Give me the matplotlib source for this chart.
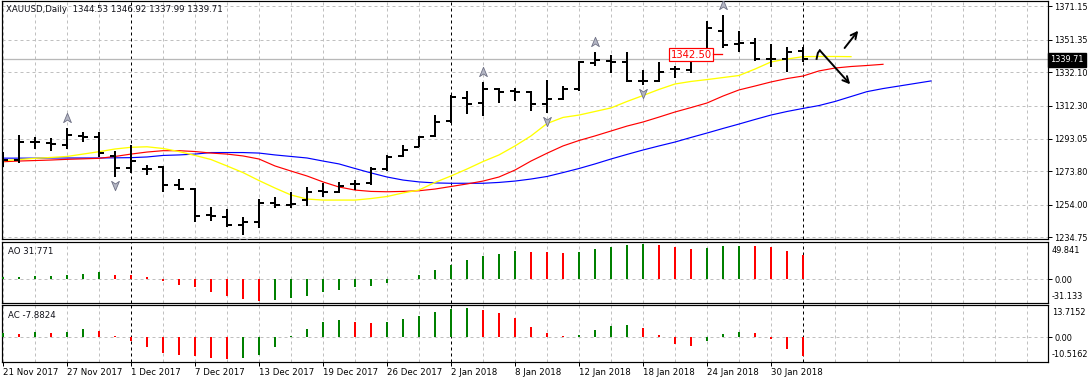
import matplotlib
matplotlib.use('Agg')
import matplotlib.pyplot as plt
import matplotlib.transforms as mtransforms
from matplotlib.path import Path
import numpy as np

# ---------------- data ----------------
title = "XAUUSD,Daily  1344.53 1346.92 1337.99 1339.71"
date_labels = ['21 Nov 2017', '27 Nov 2017', '1 Dec 2017', '7 Dec 2017', '13 Dec 2017',
               '19 Dec 2017', '26 Dec 2017', '2 Jan 2018', '8 Jan 2018', '12 Jan 2018',
               '18 Jan 2018', '24 Jan 2018', '30 Jan 2018']
date_label_bars = [0, 4, 8, 12, 16, 20, 24, 28, 32, 36, 40, 44, 48]
separator_bars = [8, 28, 50]

opens = [1279.8, 1280.4, 1291.2, 1290.4, 1289.3, 1294.3, 1293.8, 1282.9, 1275.5, 1275.3,
         1276.5, 1265.7, 1263.3, 1247.8, 1247.0, 1242.1, 1244.1, 1254.9, 1253.9, 1256.8,
         1261.9, 1261.7, 1266.4, 1266.7, 1275.1, 1282.9, 1288.2, 1294.7, 1303.6, 1317.1,
         1313.8, 1322.2, 1320.9, 1320.3, 1313.2, 1316.4, 1322.1, 1337.4, 1338.7, 1338.3,
         1327.2, 1327.0, 1334.0, 1333.4, 1342.7, 1356.6, 1348.6, 1349.5, 1339.7, 1339.7,
         1344.53]
highs = [1285.1, 1295.1, 1294.1, 1293.2, 1299.1, 1297.1, 1296.7, 1285.7, 1289.3, 1277.5,
         1277.1, 1269.0, 1263.7, 1252.5, 1251.5, 1246.7, 1257.3, 1258.9, 1261.7, 1264.7,
         1266.7, 1267.6, 1268.6, 1276.1, 1283.4, 1289.3, 1294.6, 1306.9, 1318.7, 1321.2,
         1326.5, 1323.0, 1322.7, 1320.8, 1327.5, 1324.0, 1338.7, 1344.2, 1342.3, 1343.9,
         1333.4, 1338.3, 1335.8, 1341.7, 1362.5, 1365.8, 1356.6, 1352.1, 1348.8, 1347.2,
         1346.92]
lows = [1276.3, 1278.9, 1286.9, 1285.9, 1286.7, 1290.8, 1282.4, 1270.2, 1272.6, 1271.6,
        1261.4, 1262.7, 1244.1, 1244.5, 1241.1, 1236.2, 1240.2, 1252.0, 1252.0, 1253.5,
        1258.8, 1261.1, 1262.7, 1265.7, 1273.9, 1282.4, 1287.9, 1294.1, 1302.0, 1307.5,
        1306.3, 1313.8, 1315.2, 1309.3, 1308.3, 1315.8, 1321.2, 1335.8, 1331.8, 1326.2,
        1324.6, 1326.2, 1328.6, 1331.5, 1340.3, 1346.2, 1344.2, 1338.7, 1335.4, 1332.4,
        1337.99]
closes = [1280.4, 1291.0, 1290.8, 1290.1, 1295.1, 1294.0, 1284.4, 1275.5, 1280.0, 1274.9,
          1265.7, 1263.3, 1247.6, 1247.4, 1242.1, 1244.1, 1254.9, 1254.0, 1254.5, 1261.7,
          1261.6, 1265.3, 1266.2, 1275.1, 1282.4, 1286.3, 1294.1, 1303.0, 1317.4, 1313.4,
          1322.1, 1320.7, 1320.5, 1313.2, 1316.4, 1322.2, 1338.3, 1339.3, 1338.3, 1327.0,
          1326.9, 1332.4, 1333.8, 1340.7, 1358.0, 1348.2, 1349.5, 1339.7, 1340.1, 1344.2,
          1339.71]

# Alligator lines (already shifted forward: jaw +8, teeth +5, lips +3 bars)
jaw = [1281.5, 1281.5, 1281.5, 1281.6, 1281.6, 1281.6, 1281.6, 1281.7, 1281.8, 1282.2,
       1283.1, 1283.4, 1283.9, 1284.8, 1284.8, 1284.8, 1284.5, 1283.4, 1282.5, 1281.6,
       1279.8, 1278.1, 1275.4, 1272.8, 1270.4, 1268.6, 1267.5, 1266.9, 1266.7, 1266.7,
       1266.7, 1267.2, 1268.0, 1269.2, 1270.7, 1273.0, 1275.4, 1278.1, 1281.0, 1283.7,
       1286.3, 1288.7, 1291.0, 1293.7, 1296.3, 1299.0, 1301.6, 1304.3, 1306.9, 1309.0,
       1310.8, 1312.5, 1314.9, 1317.8, 1320.7, 1322.5, 1324.0, 1325.5, 1327.0]
teeth = [1279.4, 1279.8, 1280.1, 1280.4, 1280.8, 1281.1, 1281.4, 1282.5, 1283.9, 1285.1,
         1285.9, 1285.9, 1285.4, 1284.5, 1283.9, 1282.8, 1281.0, 1276.9, 1273.9, 1271.0,
         1267.5, 1264.5, 1262.7, 1261.9, 1261.7, 1261.9, 1262.3, 1263.3, 1264.8, 1266.3,
         1268.0, 1270.4, 1274.5, 1279.8, 1284.4, 1288.7, 1291.9, 1294.6, 1297.5, 1300.4,
         1302.8, 1305.7, 1308.7, 1311.3, 1314.0, 1318.1, 1321.7, 1324.0, 1326.4, 1328.4,
         1329.9, 1332.9, 1334.6, 1335.5, 1336.1, 1336.8]
lips = [1280.0, 1280.7, 1281.4, 1281.9, 1282.5, 1283.9, 1285.3, 1286.9, 1287.9, 1288.2,
        1287.2, 1285.4, 1283.1, 1280.7, 1276.9, 1273.0, 1268.3, 1263.9, 1259.8, 1257.4,
        1256.8, 1256.8, 1256.8, 1257.7, 1258.9, 1261.0, 1262.7, 1267.2, 1271.0, 1275.1,
        1279.5, 1283.4, 1288.7, 1294.6, 1301.9, 1305.5, 1306.9, 1309.0, 1311.1, 1314.9,
        1318.4, 1322.0, 1325.2, 1326.7, 1327.8, 1329.0, 1330.2, 1334.0, 1338.2, 1339.9,
        1341.3, 1341.4, 1341.4, 1341.3]

fractal_up_bars = [4, 30, 37, 45]
fractal_down_bars = [7, 15, 34, 40]

ao = [2.2, 2.4, 3.6, 3.8, 5.9, 7.2, 9.0, 5.9, 5.0, 2.2,
      -3.1, -7.6, -11.2, -16.6, -22.5, -26.5, -29.0, -27.9, -25.6, -23.0,
      -17.5, -14.8, -11.2, -9.0, -5.4, 0.6, 5.9, 12.6, 19.3, 24.7,
      30.1, 33.7, 36.9, 36.5, 36.2, 35.1, 36.5, 39.6, 42.7, 45.0,
      46.3, 45.0, 42.7, 39.6, 41.0, 43.6, 44.0, 43.6, 42.3, 36.9,
      31.771]
ac = [1.8, 1.4, 2.4, 1.8, 2.4, 3.5, 2.7, 0.6, -1.7, -4.0,
      -6.7, -7.4, -8.1, -8.9, -9.2, -8.8, -7.4, -4.0, 0.7, 3.5,
      6.4, 7.4, 6.5, 6.1, 6.5, 7.8, 9.2, 10.8, 12.0, 12.5,
      11.6, 10.3, 8.2, 4.4, 1.8, 0.7, 1.0, 3.1, 4.8, 5.2,
      4.0, 1.0, -2.8, -3.6, -1.8, 1.4, 2.4, 1.8, -0.7, -5.0,
      -7.8824]

price_ticks = [1371.15, 1351.35, 1332.10, 1312.30, 1293.05, 1273.80, 1254.00, 1234.75]
price_range = (1233.57, 1374.10)
ao_range = (-31.133, 49.841)
ac_range = (-10.5162, 13.7152)
last_price = 1339.71
label_price = 1342.50
arrow_down = ((51.05, 1345.0), (52.95, 1325.0))
arrow_up = ((52.6, 1346.4), (53.45, 1356.6))

# ---------------- figure ----------------
W, H, DPI = 1091, 383, 100
FS = 6.2
AFS = 5.9
plt.rcParams['font.family'] = ['DejaVu Sans']
fig = plt.figure(figsize=(W / DPI, H / DPI), dpi=DPI)
fig.patch.set_facecolor('white')


def box(x0, y0, x1, y1):
    return [x0 / W, 1 - y1 / H, (x1 - x0) / W, (y1 - y0) / H]


def ftext(x, y, s, **kw):
    return fig.text(x / W, 1 - y / H, s, **kw)


ax = fig.add_axes(box(2, 1, 1048, 239.5))
ao_ax = fig.add_axes(box(2, 241.5, 1048, 302.5))
ac_ax = fig.add_axes(box(2, 305, 1048, 362))

XL = (-1 / 16, 1045 / 16)
GRID = '#c0c0c0'
PX = 0.72  # one pixel in points
BAR_LW = 1.44

for a in (ax, ao_ax, ac_ax):
    a.set_xlim(*XL)
    a.set_facecolor('white')
    for s in a.spines.values():
        s.set_color('black')
        s.set_linewidth(PX * 1.2)
    for i in range(0, 66, 2):
        if i in separator_bars:
            continue
        a.axvline(i, color=GRID, lw=PX, ls=(0, (3, 3)), zorder=0.5)
    for i in separator_bars:
        a.axvline(i, color='black', lw=PX, ls=(0, (3, 3)), zorder=0.6)

# ---- main panel ----
ax.set_ylim(*price_range)
for p in price_ticks:
    ax.axhline(p, color=GRID, lw=PX, ls=(0, (3, 3)), zorder=0.5)
ax.axhline(last_price, color='#b8b8b8', lw=PX * 1.3, zorder=0.7)

n = len(opens)
x = np.arange(n)
ax.vlines(x, lows, highs, color='black', lw=BAR_LW, zorder=3, antialiased=False)
ax.hlines(opens, x - 0.3, x, color='black', lw=BAR_LW, zorder=3, antialiased=False)
ax.hlines(closes, x, x + 0.3, color='black', lw=BAR_LW, zorder=3, antialiased=False)

ax.plot(np.arange(len(jaw)), jaw, color='#0000ff', lw=0.85, zorder=2)
ax.plot(np.arange(len(teeth)), teeth, color='#ff0000', lw=0.85, zorder=2)
ax.plot(np.arange(len(lips)), lips, color='#ffff00', lw=0.95, zorder=2)

up_marker = Path([(0, 1), (0.75, -0.8), (0, -0.3), (-0.75, -0.8), (0, 1)],
                 [Path.MOVETO, Path.LINETO, Path.LINETO, Path.LINETO, Path.CLOSEPOLY])
down_marker = Path([(0, -1), (0.75, 0.8), (0, 0.3), (-0.75, 0.8), (0, -1)],
                   [Path.MOVETO, Path.LINETO, Path.LINETO, Path.LINETO, Path.CLOSEPOLY])
tr_up = mtransforms.offset_copy(ax.transData, fig=fig, x=0, y=7.2, units='points')
tr_dn = mtransforms.offset_copy(ax.transData, fig=fig, x=0, y=-5.8, units='points')
ax.plot(fractal_up_bars, [highs[i] for i in fractal_up_bars], ls='none', marker=up_marker,
        ms=7.5, mfc='#b4b6c4', mec='#6e7084', mew=0.6, transform=tr_up, zorder=4, clip_on=True)
ax.plot(fractal_down_bars, [lows[i] for i in fractal_down_bars], ls='none', marker=down_marker,
        ms=7.5, mfc='#b4b6c4', mec='#6e7084', mew=0.6, transform=tr_dn, zorder=4, clip_on=True)

# price label object
ax.text(44.3, label_price, f"{label_price:.2f}", color='#ff0000', fontsize=7.2,
        ha='right', va='center', zorder=5,
        bbox=dict(boxstyle='square,pad=0.12', fc='white', ec='#ff0000', lw=PX * 1.2))
ax.plot([44.35, 44.95], [label_price + 0.6, label_price + 0.6], color='#ff0000', lw=PX * 1.3, zorder=5)

# hand drawn arrows
(sx, sy), (ex, ey) = arrow_down
ax.plot([sx - 0.2, sx - 0.12, sx], [sy - 5.0, sy - 1.5, sy], color='black', lw=1.4, zorder=5)
ax.annotate('', xy=(ex, ey), xytext=(sx, sy),
            arrowprops=dict(arrowstyle='->', color='black', lw=1.4, mutation_scale=11,
                            shrinkA=0, shrinkB=0), zorder=5)
(sx, sy), (ex, ey) = arrow_up
ax.annotate('', xy=(ex, ey), xytext=(sx, sy),
            arrowprops=dict(arrowstyle='->', color='black', lw=1.4, mutation_scale=11,
                            shrinkA=0, shrinkB=0), zorder=5)

ax.set_xticks([])
ax.yaxis.tick_right()
ax.set_yticks(price_ticks)
ax.set_yticklabels([f"{p:.2f}" for p in price_ticks])
ax.tick_params(axis='y', direction='out', length=3, width=PX, labelsize=AFS, pad=1.5)

ftext(6, 10, title, fontsize=FS, va='center', ha='left', color='#101018')
ftext(1050, 60, f"{last_price:.2f}", fontsize=AFS, va='center', ha='left', color='white',
      bbox=dict(boxstyle='square,pad=0.25', fc='black', ec='black'))

# ---- AO panel ----
def hist_colors(vals):
    cols = ['#008000']
    for i in range(1, len(vals)):
        cols.append('#008000' if vals[i] > vals[i - 1] else '#ff0000')
    return cols

ao_ax.set_ylim(*ao_range)
ao_ax.axhline(0, color=GRID, lw=PX, ls=(0, (3, 3)), zorder=0.5)
ao_ax.vlines(np.arange(len(ao)), 0, ao, colors=hist_colors(ao), lw=BAR_LW, zorder=3, antialiased=False)
ao_ax.set_xticks([])
ao_ax.yaxis.tick_right()
ao_ax.set_yticks([0])
ao_ax.set_yticklabels(['0.00'])
ao_ax.tick_params(axis='y', direction='out', length=3, width=PX, labelsize=AFS, pad=1.5)
ftext(8, 251.5, f"AO {ao[-1]:.3f}", fontsize=FS, va='center', ha='left', color='#101018')
ftext(1052, 250, f"{ao_range[1]:.3f}", fontsize=AFS, va='center', ha='left')
ftext(1052, 296.5, f"{ao_range[0]:.3f}", fontsize=AFS, va='center', ha='left')

# ---- AC panel ----
ac_ax.set_ylim(*ac_range)
ac_ax.axhline(0, color=GRID, lw=PX, ls=(0, (3, 3)), zorder=0.5)
ac_ax.vlines(np.arange(len(ac)), 0, ac, colors=hist_colors(ac), lw=BAR_LW, zorder=3, antialiased=False)
ac_ax.yaxis.tick_right()
ac_ax.set_yticks([0])
ac_ax.set_yticklabels(['0.00'])
ac_ax.tick_params(axis='y', direction='out', length=3, width=PX, labelsize=AFS, pad=1.5)
ac_ax.set_xticks(date_label_bars)
ac_ax.set_xticklabels(date_labels)
ac_ax.tick_params(axis='x', direction='out', length=3, width=PX, labelsize=FS, pad=1.5)
for lbl in ac_ax.get_xticklabels():
    lbl.set_ha('left')
ftext(8, 315, f"AC {ac[-1]:.4f}", fontsize=FS, va='center', ha='left', color='#101018')
ftext(1052, 312.5, f"{ac_range[1]:.4f}", fontsize=AFS, va='center', ha='left')
ftext(1052, 354.5, f"{ac_range[0]:.4f}", fontsize=AFS, va='center', ha='left')

fig.savefig('out.png', dpi=DPI, facecolor='white')
